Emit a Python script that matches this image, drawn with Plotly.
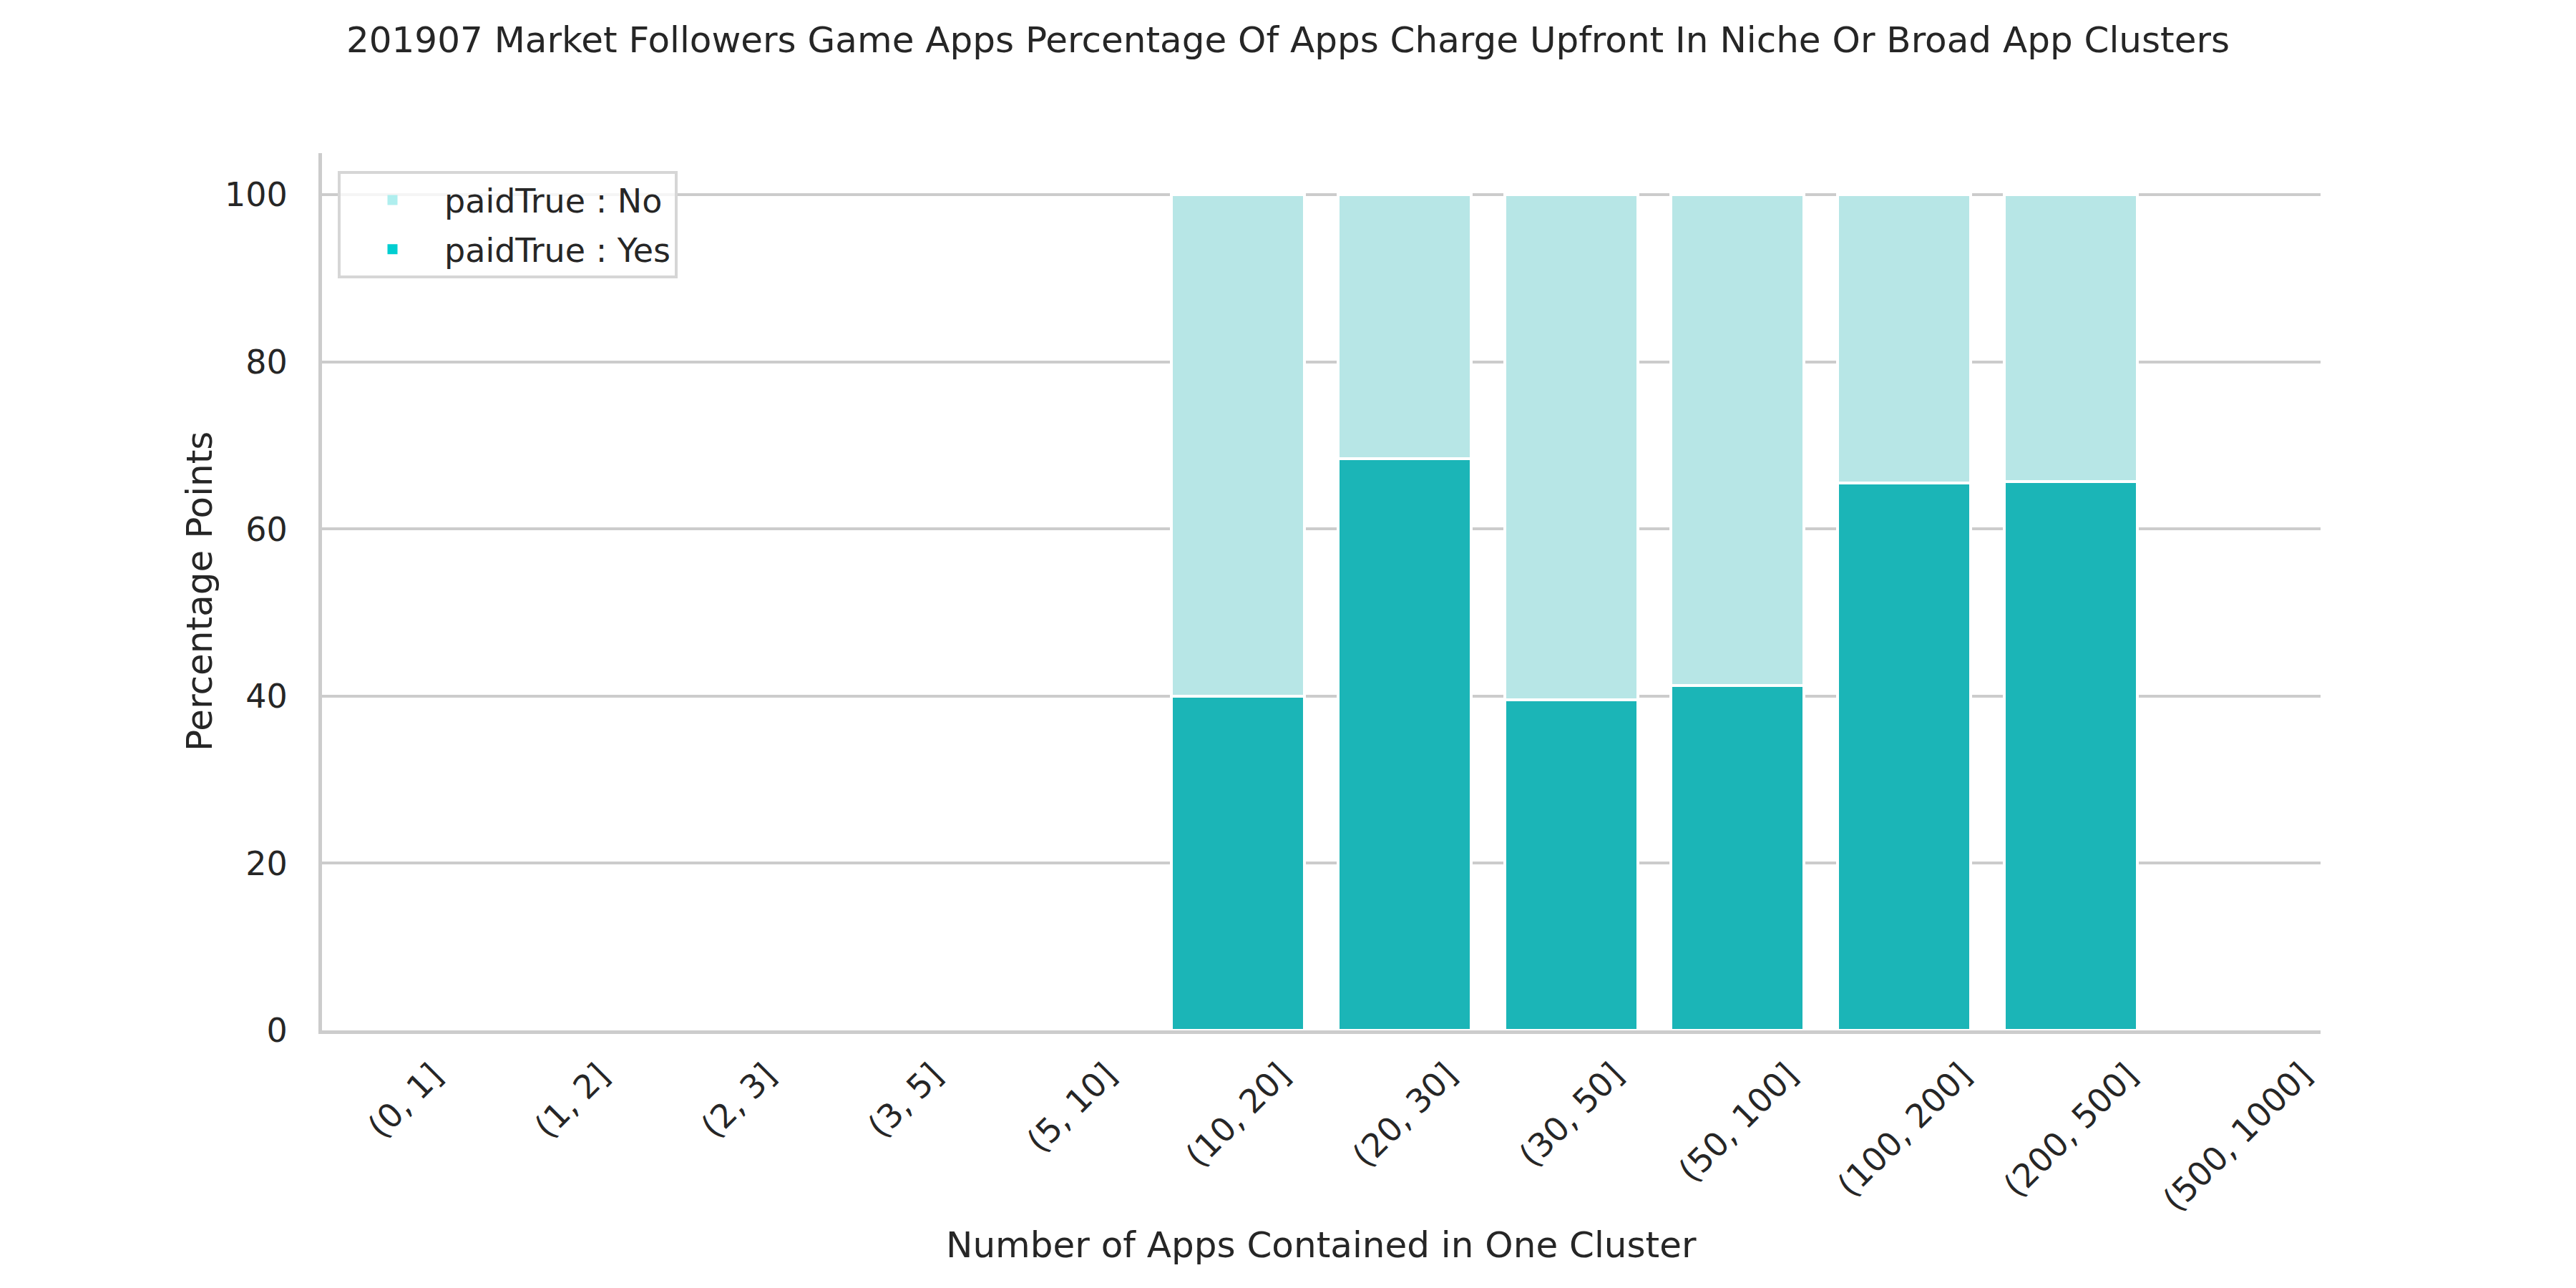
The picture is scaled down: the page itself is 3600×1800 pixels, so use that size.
import plotly.graph_objects as go

categories = ["(0, 1]", "(1, 2]", "(2, 3]", "(3, 5]", "(5, 10]", "(10, 20]",
              "(20, 30]", "(30, 50]", "(50, 100]", "(100, 200]", "(200, 500]", "(500, 1000]"]
paid_yes_pct = [None, None, None, None, None, 40.0, 68.4, 39.6, 41.3, 65.5, 65.7, None]
paid_no_pct = [None, None, None, None, None, 60.0, 31.6, 60.4, 58.7, 34.5, 34.3, None]
y_ticks = [0, 20, 40, 60, 80, 100]

title_text = "201907 Market Followers Game Apps Percentage Of Apps Charge Upfront In Niche Or Broad App Clusters"
x_title = "Number of Apps Contained in One Cluster"
y_title = "Percentage Points"

FONT = "DejaVu Sans"
TXT = "#262626"
YES_BAR = "#1bb5b7"
NO_BAR = "#b7e6e6"
YES_LEG = "#00ced1"
NO_LEG = "#afeeee"

W, H = 3600, 1800
L, R, T, B = 450, 357, 214, 360
PH = H - T - B
PW = W - L - R

fig = go.Figure()
fig.add_trace(go.Bar(x=categories, y=paid_yes_pct, marker=dict(color=YES_BAR, line=dict(color="white", width=4)),
                     width=0.8, showlegend=False, name="paidTrue : Yes"))
fig.add_trace(go.Bar(x=categories, y=paid_no_pct, marker=dict(color=NO_BAR, line=dict(color="white", width=4)),
                     width=0.8, showlegend=False, name="paidTrue : No"))
# legend-only entries (swatch colours differ from bars in the reference)
fig.add_trace(go.Bar(x=[None], y=[None], marker=dict(color=NO_LEG, line=dict(color=NO_LEG, width=2)),
                     name="paidTrue : No", legendgroup="no", showlegend=True))
fig.add_trace(go.Bar(x=[None], y=[None], marker=dict(color=YES_LEG, line=dict(color=YES_LEG, width=2)),
                     name="paidTrue : Yes", legendgroup="yes", showlegend=True))

# rotated category labels, centred on each category like the reference
tick_annotations = [
    dict(text=c, x=c, xref="x", yref="paper", y=-(1472 - 1440) / PH, textangle=-45,
         xanchor="center", yanchor="top", showarrow=False,
         font=dict(family=FONT, size=46, color=TXT))
    for c in categories
]

fig.update_layout(
    width=W, height=H,
    barmode="stack",
    paper_bgcolor="white", plot_bgcolor="white",
    margin=dict(l=L, r=R, t=T, b=B, autoexpand=False),
    font=dict(family=FONT, size=46, color=TXT),
    title=dict(text=title_text, x=0.5, xanchor="center", y=1 - 55 / H, yanchor="middle",
               font=dict(family=FONT, size=50, color=TXT)),
    legend=dict(x=(472 - L) / PW, y=(H - B - 239) / PH, xanchor="left", yanchor="top",
                traceorder="grouped",
                bgcolor="rgba(255,255,255,0.8)", bordercolor="#d6d6d6", borderwidth=4,
                font=dict(family=FONT, size=46, color=TXT), itemwidth=135,
                tracegroupgap=6),
    xaxis=dict(type="category", categoryorder="array", categoryarray=categories,
               range=[-0.5, 11.5], showticklabels=False, showgrid=False, zeroline=False,
               showline=True, linecolor="#cccccc", linewidth=5, ticks=""),
    yaxis=dict(range=[0, 105], tickvals=y_ticks, showgrid=True, gridcolor="#cccccc", gridwidth=4,
               zeroline=False, showline=True, linecolor="#cccccc", linewidth=5, ticks="",
               ticklabelstandoff=34, tickfont=dict(family=FONT, size=46, color=TXT)),
    annotations=tick_annotations + [
        dict(text=y_title, xref="paper", yref="paper", x=(279 - L) / PW, y=0.5, textangle=-90,
             showarrow=False, xanchor="center", yanchor="middle", font=dict(family=FONT, size=50, color=TXT)),
        dict(text=x_title, xref="paper", yref="paper", x=0.5, y=-(1740 - 1440) / PH,
             showarrow=False, xanchor="center", yanchor="middle", font=dict(family=FONT, size=50, color=TXT)),
    ],
)

fig.write_html("out.html", config={"displayModeBar": False},
               post_script="document.body.style.margin='0';")
